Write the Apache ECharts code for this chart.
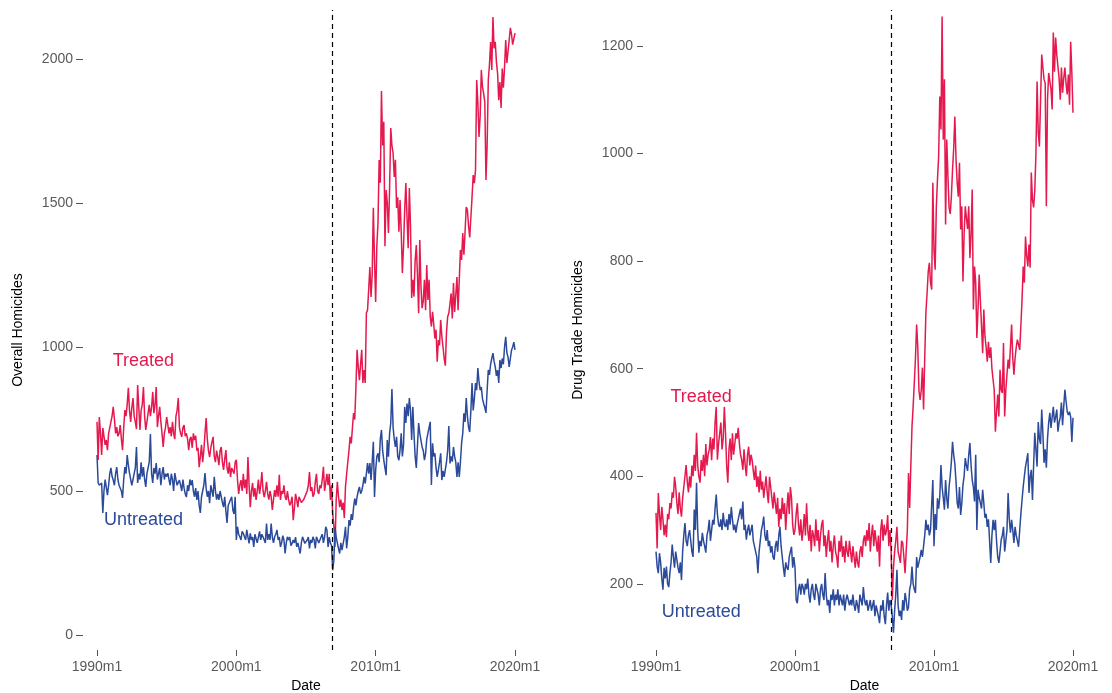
<!DOCTYPE html>
<html>
<head>
<meta charset="utf-8">
<script src="https://cdn.jsdelivr.net/npm/echarts@6/dist/echarts.min.js"></script>
<style>
  html, body { margin: 0; padding: 0; background: #fff; }
  #chart { width: 1112px; height: 693px; }
</style>
</head>
<body>
<div id="chart"></div>
<script>
// monthly series, 1990m1 .. 2020m1 (one row per year)
const overallTreated = [
  740, 608, 757, 700, 625, 719, 690, 660, 677, 642, 700, 720,
  740, 760, 792, 750, 700, 722, 690, 700, 729, 680, 642, 720,
  781, 760, 800, 858, 780, 740, 790, 823, 760, 740, 715, 868,
  790, 712, 780, 800, 861, 760, 712, 740, 770, 799, 760, 790,
  844, 770, 800, 861, 722, 760, 792, 740, 700, 653, 700, 720,
  757, 730, 700, 722, 690, 740, 700, 680, 760, 780, 823, 720,
  700, 688, 720, 729, 690, 700, 680, 642, 680, 688, 650, 700,
  677, 692, 640, 650, 583, 620, 660, 600, 640, 700, 753, 680,
  640, 618, 650, 670, 688, 620, 600, 640, 618, 590, 640, 653,
  600, 573, 610, 642, 580, 560, 600, 549, 580, 583, 560, 600,
  608, 540, 490, 520, 538, 500, 560, 510, 540, 490, 618, 520,
  444, 500, 528, 480, 510, 469, 500, 540, 490, 520, 566, 500,
  479, 500, 532, 490, 470, 500, 480, 434, 470, 503, 480, 520,
  480, 556, 469, 500, 490, 520, 480, 469, 500, 470, 450, 460,
  480, 399, 440, 490, 470, 444, 480, 479, 460, 456, 470, 480,
  490, 500, 520, 566, 500, 514, 480, 490, 530, 560, 500, 490,
  520, 510, 540, 584, 500, 528, 560, 520, 560, 469, 520, 422,
  380, 306, 469, 532, 480, 444, 470, 434, 460, 406, 514, 560,
  560, 640, 688, 665, 720, 771, 748, 860, 990, 930, 885, 940,
  990, 875, 920, 875, 1118, 1128, 1200, 1278, 1174, 1250, 1483, 1300,
  1156, 1350, 1431, 1649, 1570, 1889, 1700, 1782, 1350, 1545, 1500, 1396,
  1550, 1760, 1700, 1674, 1590, 1650, 1483, 1520, 1400, 1510, 1400, 1257,
  1350, 1476, 1569, 1450, 1343, 1552, 1420, 1170, 1233, 1175, 1300, 1354,
  1250, 1117, 1371, 1210, 1135, 1160, 1233, 1128, 1285, 1163, 1233, 1105,
  1071, 1122, 1080, 1030, 1060, 949, 1024, 1006, 1094, 1036, 1000, 960,
  935, 1050, 1105, 1117, 1150, 1186, 1099, 1222, 1122, 1180, 1243, 1128,
  1233, 1337, 1302, 1396, 1320, 1400, 1486, 1476, 1420, 1380, 1382, 1520,
  1597, 1569, 1615, 1927, 1850, 1729, 1800, 1962, 1903, 1880, 1850, 1580,
  1700, 1927, 1980, 2059, 1962, 2146, 2037, 2060, 1990, 1950, 1857, 1920,
  1830, 1967, 1900, 1972, 2066, 1986, 1990, 2066, 2108, 2085, 2050, 2070,
  2090
];
const overallUntreated = [
  625, 528, 520, 525, 528, 424, 500, 540, 538, 486, 520, 560,
  580, 550, 538, 520, 560, 583, 540, 520, 514, 500, 476, 540,
  583, 560, 625, 590, 562, 540, 520, 514, 560, 580, 653, 528,
  560, 540, 600, 550, 583, 540, 514, 560, 580, 600, 698, 560,
  528, 580, 560, 597, 540, 560, 580, 520, 560, 583, 540, 560,
  550, 562, 540, 520, 560, 540, 500, 562, 540, 520, 530, 538,
  520, 500, 540, 510, 490, 479, 520, 500, 540, 520, 538, 500,
  480, 510, 469, 500, 450, 424, 480, 500, 520, 562, 510, 480,
  500, 458, 520, 500, 480, 549, 500, 470, 490, 469, 500, 480,
  460, 444, 480, 430, 389, 450, 460, 470, 480, 434, 420, 480,
  330, 376, 350, 341, 330, 360, 353, 341, 330, 365, 340, 318,
  353, 330, 340, 306, 350, 345, 320, 340, 360, 330, 350, 340,
  345, 320, 387, 330, 350, 330, 387, 340, 320, 341, 350, 365,
  330, 340, 306, 320, 345, 330, 283, 320, 341, 330, 340, 310,
  318, 330, 320, 340, 306, 320, 301, 283, 320, 341, 330, 318,
  320, 330, 340, 301, 330, 320, 341, 330, 301, 341, 330, 320,
  330, 340, 350, 320, 340, 376, 365, 306, 340, 320, 310, 225,
  260, 376, 340, 341, 300, 283, 320, 295, 300, 340, 376, 301,
  340, 399, 380, 420, 400, 444, 474, 450, 480, 500, 514, 491,
  500, 520, 549, 526, 560, 597, 560, 597, 538, 600, 671, 479,
  573, 620, 631, 600, 680, 712, 640, 607, 580, 555, 677, 619,
  700, 736, 854, 722, 680, 653, 688, 620, 607, 642, 700, 620,
  660, 792, 736, 804, 760, 823, 780, 677, 792, 700, 620, 580,
  580, 736, 700, 701, 653, 640, 607, 630, 680, 700, 720, 740,
  521, 666, 620, 631, 580, 549, 573, 600, 631, 538, 570, 549,
  549, 600, 640, 726, 596, 620, 602, 653, 620, 600, 549, 600,
  549, 600, 666, 700, 770, 740, 823, 760, 722, 705, 780, 875,
  780, 820, 875, 850, 927, 880, 850, 861, 820, 804, 790, 771,
  850, 920, 903, 940, 960, 979, 950, 931, 900, 920, 875, 955,
  927, 960, 940, 1000, 1035, 980, 965, 931, 960, 989, 1000, 1017,
  990
];
const drugTreated = [
  332, 266, 369, 330, 300, 343, 320, 290, 310, 287, 330, 320,
  350, 340, 370, 360, 399, 380, 350, 330, 370, 340, 325, 360,
  380, 400, 421, 390, 370, 400, 379, 420, 400, 440, 410, 481,
  420, 400, 388, 430, 410, 440, 400, 460, 420, 440, 450, 473,
  430, 470, 450, 500, 529, 431, 460, 480, 500, 450, 470, 529,
  480, 420, 388, 450, 470, 430, 480, 440, 460, 480, 470, 490,
  460, 440, 430, 412, 450, 420, 400, 440, 455, 420, 440, 430,
  410, 393, 420, 380, 400, 370, 410, 375, 390, 360, 380, 400,
  370, 350, 399, 380, 360, 340, 370, 350, 330, 360, 306, 340,
  320, 360, 330, 350, 300, 340, 370, 330, 380, 360, 310, 291,
  300, 330, 350, 310, 290, 320, 280, 300, 330, 290, 350, 300,
  280, 310, 260, 300, 290, 270, 320, 280, 300, 260, 290, 310,
  319, 270, 290, 250, 280, 300, 260, 280, 240, 270, 290, 260,
  250, 230, 280, 260, 290, 250, 270, 240, 280, 260, 250, 280,
  260, 240, 270, 250, 230, 260, 240, 230, 260, 270, 250, 280,
  290, 270, 300, 280, 313, 260, 290, 310, 270, 300, 280, 260,
  290, 232, 300, 320, 280, 310, 290, 300, 328, 270, 300, 260,
  170, 230, 260, 280, 306, 260, 250, 239, 280, 276, 250, 220,
  260, 300, 406, 341, 420, 492, 530, 574, 620, 682, 640, 560,
  542, 560, 602, 524, 620, 704, 740, 780, 797, 760, 747, 946,
  820, 784, 900, 952, 994, 1106, 1045, 1255, 1026, 1138, 868, 1026,
  960, 900, 888, 920, 970, 1010, 1069, 990, 946, 920, 983, 859,
  902, 762, 850, 902, 880, 860, 902, 806, 850, 933, 710, 790,
  760, 657, 710, 775, 728, 680, 629, 710, 660, 640, 613, 650,
  620, 640, 600, 598, 560, 483, 520, 552, 511, 598, 560, 555,
  648, 511, 560, 590, 617, 600, 640, 682, 620, 589, 620, 640,
  654, 654, 635, 680, 728, 790, 760, 846, 810, 790, 831, 788,
  965, 914, 900, 931, 1000, 1134, 1039, 1013, 1100, 1184, 1160, 1138,
  1131, 902, 1100, 1150, 1152, 1120, 1082, 1225, 1152, 1216, 1184, 1162,
  1140, 1100, 1160, 1113, 1140, 1160, 1130, 1110, 1147, 1091, 1208, 1150,
  1076
];
const drugUntreated = [
  260, 232, 220, 257, 240, 210, 189, 230, 210, 232, 200, 194,
  220, 240, 273, 250, 230, 260, 245, 230, 220, 240, 207, 260,
  290, 313, 280, 270, 290, 300, 280, 260, 250, 338, 300, 388,
  300, 258, 280, 270, 295, 280, 270, 258, 290, 300, 319, 280,
  300, 319, 310, 340, 366, 330, 310, 306, 320, 300, 332, 310,
  306, 320, 300, 330, 310, 343, 320, 300, 310, 295, 310, 320,
  330, 340, 320, 353, 300, 310, 282, 300, 310, 290, 300, 310,
  280, 270, 260, 250, 220, 260, 280, 300, 310, 325, 290, 280,
  300, 270, 280, 258, 270, 250, 245, 270, 280, 260, 290, 306,
  270, 250, 230, 213, 240, 230, 226, 250, 260, 269, 230, 250,
  230, 170, 164, 190, 200, 180, 200, 194, 180, 200, 190, 210,
  180, 165, 190, 200, 180, 170, 200, 190, 180, 160, 190, 200,
  180, 170, 220, 180, 160, 170, 146, 180, 170, 190, 160, 180,
  170, 190, 160, 180, 170, 160, 180, 150, 170, 180, 183, 160,
  170, 160, 180, 160, 150, 170, 160, 146, 180, 170, 160, 194,
  170, 160, 170, 150, 160, 170, 150, 160, 170, 140, 160, 150,
  140, 127, 160, 150, 170, 140, 125, 160, 184, 150, 170, 160,
  140, 109, 150, 180, 226, 160, 140, 150, 133, 170, 150, 183,
  170, 150, 157, 190, 200, 232, 200, 190, 183, 250, 230, 240,
  250, 263, 250, 270, 290, 319, 300, 310, 290, 300, 300, 393,
  270, 330, 300, 359, 340, 362, 421, 380, 360, 338, 393, 360,
  340, 380, 400, 427, 464, 440, 423, 390, 351, 340, 380, 328,
  350, 384, 400, 434, 420, 410, 440, 462, 420, 393, 380, 353,
  440, 300, 375, 360, 351, 340, 375, 350, 323, 330, 306, 320,
  319, 239, 290, 319, 300, 319, 280, 250, 239, 260, 282, 290,
  306, 260, 280, 300, 369, 320, 295, 319, 300, 276, 306, 290,
  280, 269, 300, 330, 356, 380, 400, 418, 430, 443, 369, 400,
  412, 356, 420, 481, 450, 418, 501, 470, 460, 524, 480, 425,
  450, 416, 470, 500, 518, 490, 510, 529, 500, 510, 524, 483,
  500, 510, 537, 495, 530, 561, 540, 520, 514, 520, 510, 464,
  509
];

// axis ticks (x = months since 1990m1)
const xTickMonths = [0, 120, 240, 360];
const xTickLabels = ['1990m1', '2000m1', '2010m1', '2020m1'];
const overallTicks = [0, 500, 1000, 1500, 2000];
const drugTicks = [200, 400, 600, 800, 1000, 1200];
const policyMonth = 203; // 2006m12

// in-plot labels: [month, value]
const overallLabelPos = { treated: [40, 951], untreated: [40, 399] };
const drugLabelPos = { treated: [39, 548], untreated: [39, 148] };

const RED = '#E5194E';
const BLUE = '#2B4A9A';
const FONT = '"Liberation Sans", Arial, sans-serif';

const toPairs = (arr) => arr.map((v, i) => [i, v]);

const chart = echarts.init(document.getElementById('chart'));

const xAxisFor = (gridIndex) => ({
  type: 'value',
  gridIndex,
  position: 'bottom',
  min: 0,
  max: 360,
  name: 'Date',
  nameLocation: 'middle',
  nameGap: 27,
  nameTextStyle: { color: '#000', fontSize: 14, fontFamily: FONT },
  axisLine: { show: true, onZero: false, lineStyle: { color: 'rgba(0,0,0,0)' } },
  splitLine: { show: false },
  axisTick: {
    show: true,
    length: 6,
    customValues: xTickMonths,
    lineStyle: { color: '#555', width: 1 },
  },
  axisLabel: {
    customValues: xTickMonths,
    margin: 10,
    color: '#595959',
    fontSize: 14,
    fontFamily: FONT,
    formatter: (v) => xTickLabels[xTickMonths.indexOf(v)] || '',
  },
});

// ggplot-like detached ticks: long tick with a gap drawn as a dash pattern
const yAxisFor = (gridIndex, name, min, max, ticks, gap, tickLen) => ({
  type: 'value',
  gridIndex,
  min,
  max,
  name,
  nameLocation: 'middle',
  nameGap: 58 + gap,
  nameTextStyle: { color: '#000', fontSize: 14, fontFamily: FONT },
  axisLine: { show: false, onZero: false },
  splitLine: { show: false },
  axisTick: {
    show: true,
    length: gap + tickLen,
    customValues: ticks,
    lineStyle: { color: '#555', type: [0, gap, tickLen, 0] },
  },
  axisLabel: {
    customValues: ticks,
    margin: gap + 10,
    color: '#595959',
    fontSize: 14,
    fontFamily: FONT,
    formatter: (v) => String(v),
  },
});

const lineSeries = (name, data, color, axisIdx, withMark) => ({
  name,
  type: 'line',
  xAxisIndex: axisIdx,
  yAxisIndex: axisIdx,
  data: toPairs(data),
  showSymbol: false,
  lineStyle: { color, width: 1.5 },
  itemStyle: { color },
  z: name.startsWith('Untreated') ? 3 : 2,
  markLine: withMark ? {
    silent: true,
    symbol: 'none',
    label: { show: false },
    lineStyle: { color: '#000', type: [5, 4], width: 1.2 },
    data: [{ xAxis: policyMonth }],
  } : undefined,
});

const textSeries = (text, pos, color, axisIdx) => ({
  type: 'scatter',
  xAxisIndex: axisIdx,
  yAxisIndex: axisIdx,
  symbolSize: 0,
  silent: true,
  itemStyle: { opacity: 1 },
  data: [pos],
  label: {
    show: true,
    position: 'inside',
    formatter: text,
    color,
    opacity: 1,
    fontSize: 18,
    fontFamily: FONT,
  },
});

const option = {
  animation: false,
  backgroundColor: '#fff',
  grid: [
    { left: 97, width: 418, top: 10, bottom: 43, outerBoundsMode: 'none', containLabel: false },
    { left: 656, width: 417, top: 10, bottom: 43, outerBoundsMode: 'none', containLabel: false },
  ],
  xAxis: [xAxisFor(0), xAxisFor(1)],
  yAxis: [
    yAxisFor(0, 'Overall Homicides', -52, 2170, overallTicks, 14, 7),
    yAxisFor(1, 'Drug Trade Homicides', 77, 1267, drugTicks, 13, 6),
  ],
  series: [
    lineSeries('Treated overall', overallTreated, RED, 0, true),
    lineSeries('Untreated overall', overallUntreated, BLUE, 0, false),
    lineSeries('Treated drug', drugTreated, RED, 1, true),
    lineSeries('Untreated drug', drugUntreated, BLUE, 1, false),
    textSeries('Treated', overallLabelPos.treated, RED, 0),
    textSeries('Untreated', overallLabelPos.untreated, BLUE, 0),
    textSeries('Treated', drugLabelPos.treated, RED, 1),
    textSeries('Untreated', drugLabelPos.untreated, BLUE, 1),
  ],
};

chart.setOption(option);
</script>
</body>
</html>
